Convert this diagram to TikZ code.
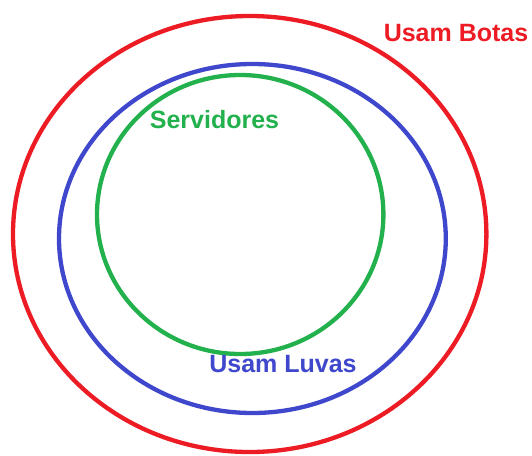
\documentclass[tikz,border=0pt]{standalone}
\usepackage{fontspec}
\setmainfont{Liberation Sans}
\definecolor{pred}{RGB}{237,28,36}
\definecolor{pblue}{RGB}{63,72,204}
\definecolor{pgreen}{RGB}{34,177,76}
\tikzset{
  ring/.style={line width=4.3pt},
  lbl/.style={anchor=base, inner sep=0pt, font=\fontsize{25}{29}\selectfont\bfseries}
}
\begin{document}
\begin{tikzpicture}[x=1pt,y=-1pt]
\useasboundingbox[fill=white] (0,0) rectangle (532,455);
\draw[ring, pred] (249.7,234) ellipse [x radius=236.7pt, y radius=218pt];
\draw[ring, pblue] (252.4,238.5) ellipse [x radius=193.4pt, y radius=174.5pt];
\draw[ring, pgreen] (240.2,214.5) ellipse [x radius=143.2pt, y radius=139.5pt];
\node[lbl, text=pred] (botas) at (456,41) {Usam Botas};
\node[lbl, text=pgreen] (serv) at (214.5,128) {Servidores};
\node[lbl, text=pblue] (luvas) at (283,372) {Usam Luvas};
\end{tikzpicture}
\end{document}
